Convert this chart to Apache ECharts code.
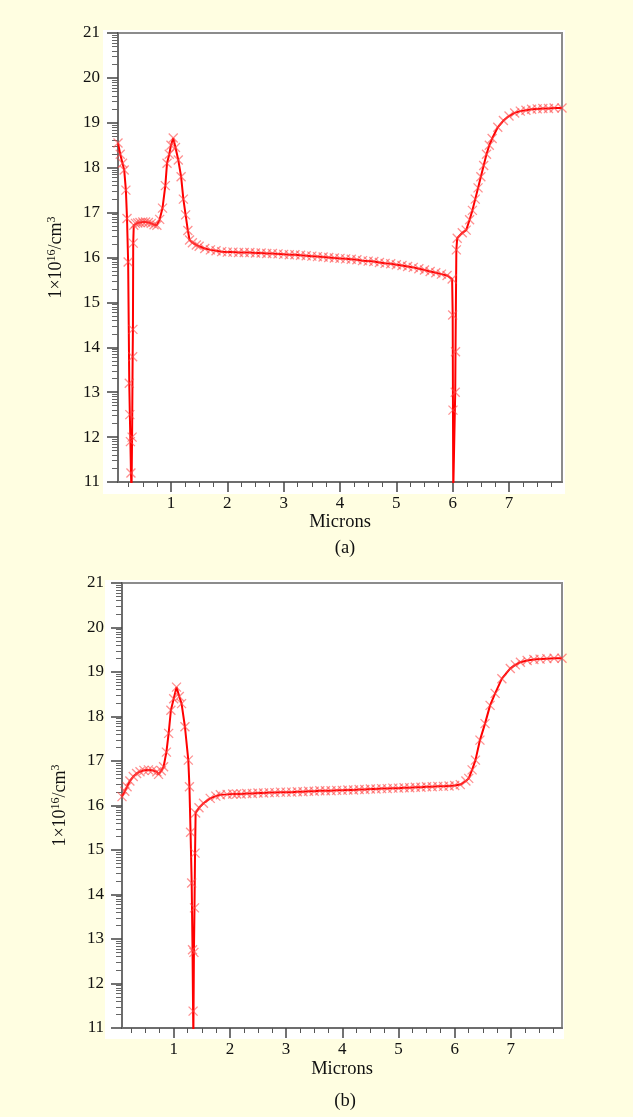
<!DOCTYPE html>
<html><head><meta charset="utf-8">
<script src="https://cdn.jsdelivr.net/npm/echarts@6/dist/echarts.min.js"></script>
<style>html,body{margin:0;padding:0;background:#fffee1;} #c{width:633px;height:1117px;}</style>
</head><body><div id="c"></div>
<script>
// ---- data ----
const xTickLabels = [1, 2, 3, 4, 5, 6, 7];
const yTickLabels = [11, 12, 13, 14, 15, 16, 17, 18, 19, 20, 21];
const panelLabels = ['(a)', '(b)'];
const xTitle = 'Microns';
const yTitle = '{n|1×10}{s|16}{n|/cm}{s|3}';

const aX = [0.06,0.1,0.14,0.17,0.2,0.22,0.24,0.26,0.27,0.28,0.29,0.3,0.31,0.32,0.325,0.33,0.34,0.37,0.41,0.45,0.5,0.55,0.6,0.65,0.7,0.75,0.8,0.85,0.9,0.93,0.97,1.0,1.04,1.08,1.13,1.18,1.22,1.26,1.3,1.33,1.38,1.45,1.5,1.6,1.7,1.8,1.9,2.0,2.1,2.2,2.3,2.4,2.5,2.6,2.7,2.8,2.9,3.0,3.1,3.2,3.3,3.4,3.5,3.6,3.7,3.8,3.9,4.0,4.1,4.2,4.3,4.4,4.5,4.6,4.7,4.8,4.9,5.0,5.1,5.2,5.3,5.4,5.5,5.6,5.7,5.8,5.9,5.99,6.0,6.005,6.01,6.045,6.05,6.065,6.08,6.17,6.24,6.3,6.35,6.4,6.45,6.5,6.55,6.6,6.65,6.7,6.8,6.9,7.0,7.1,7.2,7.3,7.4,7.5,7.6,7.7,7.8,7.94];
const aY = [18.55,18.3,18.1,17.95,17.5,16.87,15.9,13.2,12.5,11.9,11.2,10.8,12.0,13.79,14.4,16.32,16.72,16.76,16.77,16.78,16.79,16.79,16.78,16.76,16.73,16.72,16.85,17.1,17.6,18.1,18.3,18.5,18.66,18.45,18.17,17.8,17.3,16.95,16.6,16.39,16.33,16.28,16.25,16.2,16.17,16.15,16.13,16.12,16.12,16.11,16.11,16.11,16.10,16.10,16.09,16.09,16.08,16.07,16.06,16.06,16.05,16.04,16.03,16.02,16.01,16.00,15.99,15.98,15.97,15.96,15.95,15.93,15.92,15.91,15.89,15.87,15.86,15.84,15.82,15.80,15.78,15.75,15.72,15.69,15.66,15.63,15.60,15.52,14.72,12.6,10.8,13.0,13.9,16.17,16.43,16.55,16.61,16.84,17.05,17.3,17.55,17.8,18.05,18.3,18.5,18.65,18.9,19.05,19.15,19.22,19.26,19.28,19.3,19.31,19.32,19.32,19.33,19.33];

const bX = [0.08,0.13,0.17,0.22,0.28,0.34,0.4,0.47,0.55,0.62,0.7,0.73,0.78,0.82,0.87,0.91,0.95,1.0,1.05,1.1,1.14,1.2,1.26,1.28,1.3,1.32,1.335,1.345,1.35,1.36,1.37,1.38,1.39,1.45,1.53,1.65,1.75,1.83,1.95,2.05,2.12,2.2,2.3,2.4,2.5,2.6,2.7,2.8,2.9,3.0,3.1,3.2,3.3,3.4,3.5,3.6,3.7,3.8,3.9,4.0,4.1,4.2,4.3,4.4,4.5,4.6,4.7,4.8,4.9,5.0,5.1,5.2,5.3,5.4,5.5,5.6,5.7,5.8,5.9,6.0,6.1,6.2,6.25,6.31,6.37,6.45,6.54,6.63,6.72,6.84,6.99,7.08,7.17,7.29,7.41,7.52,7.64,7.77,7.91];
const bY = [16.2,16.32,16.42,16.55,16.65,16.72,16.76,16.79,16.8,16.79,16.76,16.7,16.78,16.87,17.2,17.62,18.14,18.4,18.66,18.45,18.29,17.77,17.02,16.42,15.4,14.26,12.76,11.38,10.8,12.7,13.7,14.93,15.83,15.95,16.05,16.16,16.21,16.24,16.25,16.26,16.26,16.26,16.27,16.27,16.28,16.28,16.29,16.29,16.3,16.3,16.3,16.31,16.31,16.32,16.32,16.33,16.33,16.33,16.34,16.34,16.35,16.35,16.36,16.36,16.37,16.37,16.38,16.38,16.39,16.39,16.4,16.4,16.41,16.41,16.42,16.42,16.43,16.43,16.44,16.45,16.47,16.55,16.61,16.8,17.02,17.47,17.84,18.25,18.52,18.85,19.08,19.16,19.22,19.26,19.28,19.29,19.3,19.31,19.31];

// ---- tick positions ----
const xMinor = [];
for (let i = 1; i < 32; i++) { if (i % 4 !== 0) xMinor.push(i * 0.25); }
const yMinor = [];
for (let d = 11; d < 21; d++) { for (let k = 2; k <= 9; k++) yMinor.push(d + Math.log10(k)); }

const FONT = '"Liberation Serif", "Times New Roman", serif';
const TXT = '#111';
const AXC = '#6d6d6d';

const panels = [
  {grid:{left:118, top:33, right:71, height:449}, xmin:0.06, xmax:7.94, X:aX, Y:aY, label:panelLabels[0], labelTop:534, nameGap:28, bg:[103,30,462,464]},
  {grid:{left:122, top:583, right:71, height:445}, xmin:0.08, xmax:7.91, X:bX, Y:bY, label:panelLabels[1], labelTop:1087, nameGap:32, bg:[105,580,459,459]}
];

const grids = [], xAxes = [], yAxes = [], series = [], titles = [], graphics = [];
panels.forEach((p, gi) => {
  grids.push(Object.assign({show:true, borderColor:'#8c8c8c', borderWidth:2, backgroundColor:'#ffffff'}, p.grid));
  graphics.push({type:'rect', z:-10, shape:{x:p.bg[0], y:p.bg[1], width:p.bg[2], height:p.bg[3]}, style:{fill:'#ffffff'}});
  xAxes.push({gridIndex:gi, type:'value', position:'bottom', min:p.xmin, max:p.xmax,
    axisLine:{show:true, onZero:false, lineStyle:{color:AXC, width:2}},
    axisTick:{show:true, customValues:xTickLabels, length:10, lineStyle:{color:'#444', width:1.5}},
    axisLabel:{customValues:xTickLabels, fontFamily:FONT, fontSize:17, color:TXT, margin:13},
    splitLine:{show:false},
    name:xTitle, nameLocation:'middle', nameGap:p.nameGap, nameTextStyle:{fontFamily:FONT, fontSize:18.5, color:TXT}});
  xAxes.push({gridIndex:gi, type:'value', position:'bottom', min:p.xmin, max:p.xmax,
    axisLine:{show:false, onZero:false},
    axisTick:{show:true, customValues:xMinor, length:5, lineStyle:{color:'#555', width:1}},
    axisLabel:{show:false}, splitLine:{show:false}});
  yAxes.push({gridIndex:gi, type:'value', position:'left', min:11, max:21, interval:1,
    axisLine:{show:true, onZero:false, lineStyle:{color:AXC, width:2}},
    axisTick:{show:true, length:11, lineStyle:{color:'#444', width:1.5}},
    axisLabel:{fontFamily:FONT, fontSize:17, color:TXT, margin:18},
    splitLine:{show:false},
    name:yTitle, nameLocation:'middle', nameRotate:90, nameGap:52,
    nameTextStyle:{fontFamily:FONT, color:TXT, rich:{
      n:{fontFamily:FONT, fontSize:18, color:TXT, lineHeight:20},
      s:{fontFamily:FONT, fontSize:12, color:TXT, lineHeight:12, verticalAlign:'top'}}}});
  yAxes.push({gridIndex:gi, type:'value', position:'left', min:11, max:21,
    axisLine:{show:false, onZero:false},
    axisTick:{show:true, customValues:yMinor, length:6, lineStyle:{color:'#666', width:1}},
    axisLabel:{show:false}, splitLine:{show:false}});
  series.push({type:'line', xAxisIndex:gi*2, yAxisIndex:gi*2, clip:true,
    data:p.X.map((x, i) => [x, p.Y[i]]),
    lineStyle:{color:'#ff0000', width:2},
    symbol:'path://M0,0L10,10M10,0L0,10', symbolSize:9, showSymbol:true,
    itemStyle:{color:'rgba(0,0,0,0)', borderColor:'rgba(255,70,70,0.6)', borderWidth:1.3},
    z:3});
  titles.push({text:p.label, left:340, top:p.labelTop, textAlign:'center',
    textStyle:{fontFamily:FONT, fontSize:18.5, fontWeight:'normal', color:TXT}});
});

const chart = echarts.init(document.getElementById('c'), null, {renderer:'canvas'});
chart.setOption({
  backgroundColor:'#fffee1', animation:false,
  title:titles, grid:grids, xAxis:xAxes, yAxis:yAxes, series:series, graphic:graphics
});
</script></body></html>
